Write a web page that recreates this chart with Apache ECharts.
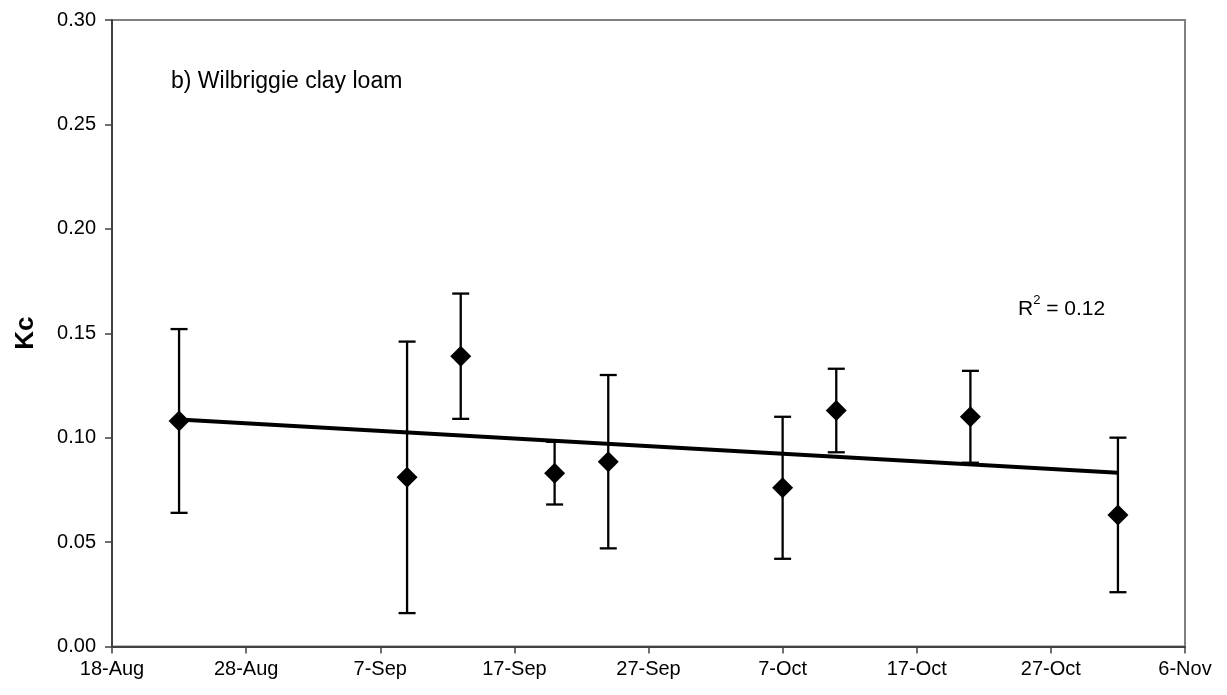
<!DOCTYPE html>
<html>
<head>
<meta charset="utf-8">
<script src="https://cdn.jsdelivr.net/npm/echarts@6/dist/echarts.min.js"></script>
<style>html,body{margin:0;padding:0;background:#fff;}#chart{width:1227px;height:695px;}</style>
</head>
<body>
<div id="chart"></div>
<script>
// ---- data ----
const dates = ['23-Aug', '9-Sep', '13-Sep', '20-Sep', '24-Sep', '7-Oct', '11-Oct', '21-Oct', '1-Nov'];
const kc = [0.108, 0.081, 0.139, 0.083, 0.0885, 0.076, 0.113, 0.110, 0.063];
const kcUpper = [0.152, 0.146, 0.169, 0.098, 0.130, 0.110, 0.133, 0.132, 0.100];
const kcLower = [0.064, 0.016, 0.109, 0.068, 0.047, 0.042, 0.093, 0.088, 0.026];
const xTickLabels = ['18-Aug', '28-Aug', '7-Sep', '17-Sep', '27-Sep', '7-Oct', '17-Oct', '27-Oct', '6-Nov'];
const yTickLabels = ['0.00', '0.05', '0.10', '0.15', '0.20', '0.25', '0.30'];
const panelLabel = 'b) Wilbriggie clay loam';
const r2Text = '0.12';

// ---- helpers ----
const monthIdx = {Jan:0,Feb:1,Mar:2,Apr:3,May:4,Jun:5,Jul:6,Aug:7,Sep:8,Oct:9,Nov:10,Dec:11};
function dayNum(s) {
  const p = s.split('-');
  return Math.round(Date.UTC(2001, monthIdx[p[1]], +p[0]) / 86400000);
}
const xMin = dayNum(xTickLabels[0]);
const xMax = dayNum(xTickLabels[xTickLabels.length - 1]);
const xs = dates.map(dayNum);
const points = xs.map((x, i) => [x, kc[i]]);
const errData = xs.map((x, i) => [x, kcLower[i], kcUpper[i]]);

// linear least-squares trend (as Excel's trendline)
const n = xs.length;
const mx = xs.reduce((a, b) => a + b, 0) / n;
const my = kc.reduce((a, b) => a + b, 0) / n;
let sxy = 0, sxx = 0;
for (let i = 0; i < n; i++) { sxy += (xs[i] - mx) * (kc[i] - my); sxx += (xs[i] - mx) ** 2; }
const slope = sxy / sxx, icpt = my - slope * mx;
const trend = [[xs[0], icpt + slope * xs[0]], [xs[n - 1], icpt + slope * xs[n - 1]]];

const FONT = '"Liberation Sans", Arial, sans-serif';
const chart = echarts.init(document.getElementById('chart'), null, {renderer: 'canvas'});
chart.setOption({
  animation: false,
  backgroundColor: '#fff',
  grid: {left: 112, right: 42, top: 20, bottom: 48.5, show: true, borderColor: '#808080', borderWidth: 2, backgroundColor: 'transparent'},
  xAxis: {
    type: 'value', min: xMin, max: xMax, interval: 10,
    axisLine: {show: true, onZero: false, lineStyle: {color: '#404040', width: 2}},
    axisTick: {show: true, length: 7, lineStyle: {color: '#404040', width: 1.5}},
    splitLine: {show: false},
    axisLabel: {
      margin: 13, color: '#000', fontFamily: FONT, fontSize: 20,
      formatter: v => xTickLabels[Math.round((v - xMin) / 10)] || ''
    }
  },
  yAxis: {
    type: 'value', min: 0, max: 0.30, interval: 0.05,
    name: 'Kc', nameLocation: 'middle', nameGap: 73, nameRotate: 90,
    nameTextStyle: {color: '#000', fontFamily: FONT, fontSize: 26, fontWeight: 'bold'},
    axisLine: {show: true, lineStyle: {color: '#404040', width: 2}},
    axisTick: {show: true, length: 7, lineStyle: {color: '#404040', width: 1.5}},
    splitLine: {show: false},
    axisLabel: {
      margin: 16, color: '#000', fontFamily: FONT, fontSize: 20,
      formatter: v => yTickLabels[Math.round(v / 0.05)] || ''
    }
  },
  series: [
    {
      type: 'line', data: trend, symbol: 'none', z: 3,
      lineStyle: {color: '#000', width: 4}
    },
    {
      type: 'custom', z: 4,
      renderItem: function (params, api) {
        const x = api.value(0);
        const lo = api.coord([x, api.value(1)]);
        const hi = api.coord([x, api.value(2)]);
        const hw = 8.5;
        const st = {stroke: '#000', lineWidth: 2.3};
        return {
          type: 'group',
          children: [
            {type: 'line', shape: {x1: lo[0], y1: lo[1], x2: hi[0], y2: hi[1]}, style: st},
            {type: 'line', shape: {x1: lo[0] - hw, y1: lo[1], x2: lo[0] + hw, y2: lo[1]}, style: st},
            {type: 'line', shape: {x1: hi[0] - hw, y1: hi[1], x2: hi[0] + hw, y2: hi[1]}, style: st}
          ]
        };
      },
      encode: {x: 0, y: [1, 2]},
      data: errData
    },
    {
      type: 'scatter', data: points, symbol: 'diamond', symbolSize: [21, 21], z: 5,
      itemStyle: {color: '#000', opacity: 1}
    }
  ],
  graphic: [
    {type: 'text', left: 171, top: 70, style: {text: panelLabel, fill: '#000', font: '23px ' + FONT}},
    {type: 'text', left: 1018, top: 294, style: {
      text: '{b|R}{s|2}{b| = ' + r2Text + '}',
      rich: {
        b: {fontSize: 21, fontFamily: FONT, fill: '#000', color: '#000', verticalAlign: 'bottom', lineHeight: 26},
        s: {fontSize: 13, fontFamily: FONT, fill: '#000', color: '#000', verticalAlign: 'top', lineHeight: 26}
      }
    }}
  ]
});
</script>
</body>
</html>
